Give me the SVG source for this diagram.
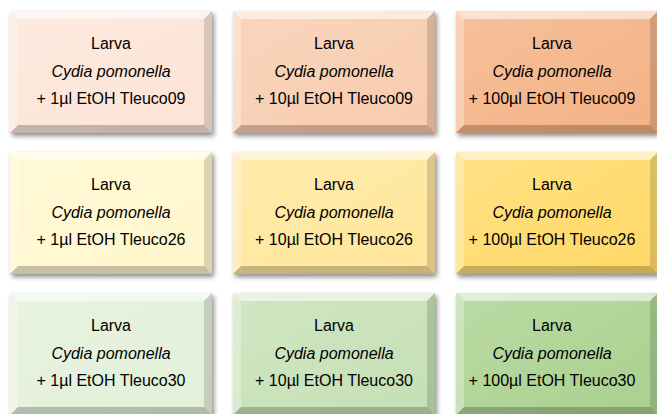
<svg xmlns="http://www.w3.org/2000/svg" xmlns:xlink="http://www.w3.org/1999/xlink" width="657" height="414" viewBox="0 0 657 414">
<style>
.t{font-family:"Liberation Sans",Arial,sans-serif;font-size:16px;fill:#000;text-anchor:middle}
.i{font-style:italic}
.sh{fill:#000;opacity:0.45;filter:url(#blur)}
</style>
<defs>
<filter id="blur" x="-10%" y="-10%" width="130%" height="130%"><feGaussianBlur stdDeviation="2.5"/></filter>
<linearGradient id="sheen" x1="0" y1="0" x2="1" y2="1"><stop offset="0" stop-color="#fff" stop-opacity="0.2"/><stop offset="1" stop-color="#fff" stop-opacity="0"/></linearGradient>
<g id="bev">
<rect width="202" height="122" fill="url(#sheen)"/>
<polygon points="0,0 202,0 194,8 8,8" fill="#fff" opacity="0.55"/>
<polygon points="0,0 8,8 8,114 0,122" fill="#fff" opacity="0.3"/>
<polygon points="202,0 202,122 194,114 194,8" fill="#000" opacity="0.14"/>
<polygon points="0,122 202,122 194,114 8,114" fill="#000" opacity="0.22"/>
</g>
</defs>
<rect width="657" height="414" fill="#fff"/>
<g id="n1"><rect class="sh" x="12" y="14" width="202" height="122"/><rect x="10" y="11" width="202" height="122" fill="#FCE4D6"/><use xlink:href="#bev" x="10" y="11"/>
<text class="t" x="111" y="49">Larva</text><text class="t i" x="111" y="76.5">Cydia pomonella</text><text class="t" x="111" y="104">+ 1µl EtOH Tleuco09</text></g>
<g id="n2"><rect class="sh" x="235" y="14" width="202" height="122"/><rect x="233" y="11" width="202" height="122" fill="#F8CBAD"/><use xlink:href="#bev" x="233" y="11"/>
<text class="t" x="334" y="49">Larva</text><text class="t i" x="334" y="76.5">Cydia pomonella</text><text class="t" x="334" y="104">+ 10µl EtOH Tleuco09</text></g>
<g id="n3"><rect class="sh" x="458" y="14" width="202" height="122"/><rect x="456" y="11" width="202" height="122" fill="#F4B183"/><use xlink:href="#bev" x="456" y="11"/>
<text class="t" x="552" y="49">Larva</text><text class="t i" x="552" y="76.5">Cydia pomonella</text><text class="t" x="552" y="104">+ 100µl EtOH Tleuco09</text></g>
<g id="n4"><rect class="sh" x="12" y="155" width="202" height="122"/><rect x="10" y="152" width="202" height="122" fill="#FFF7CC"/><use xlink:href="#bev" x="10" y="152"/>
<text class="t" x="111" y="190">Larva</text><text class="t i" x="111" y="217.5">Cydia pomonella</text><text class="t" x="111" y="245">+ 1µl EtOH Tleuco26</text></g>
<g id="n5"><rect class="sh" x="235" y="155" width="202" height="122"/><rect x="233" y="152" width="202" height="122" fill="#FFE699"/><use xlink:href="#bev" x="233" y="152"/>
<text class="t" x="334" y="190">Larva</text><text class="t i" x="334" y="217.5">Cydia pomonella</text><text class="t" x="334" y="245">+ 10µl EtOH Tleuco26</text></g>
<g id="n6"><rect class="sh" x="458" y="155" width="202" height="122"/><rect x="456" y="152" width="202" height="122" fill="#FFD966"/><use xlink:href="#bev" x="456" y="152"/>
<text class="t" x="552" y="190">Larva</text><text class="t i" x="552" y="217.5">Cydia pomonella</text><text class="t" x="552" y="245">+ 100µl EtOH Tleuco26</text></g>
<g id="n7"><rect class="sh" x="12" y="296" width="202" height="122"/><rect x="10" y="293" width="202" height="122" fill="#E2F0D9"/><use xlink:href="#bev" x="10" y="293"/>
<text class="t" x="111" y="331">Larva</text><text class="t i" x="111" y="358.5">Cydia pomonella</text><text class="t" x="111" y="386">+ 1µl EtOH Tleuco30</text></g>
<g id="n8"><rect class="sh" x="235" y="296" width="202" height="122"/><rect x="233" y="293" width="202" height="122" fill="#C5E0B4"/><use xlink:href="#bev" x="233" y="293"/>
<text class="t" x="334" y="331">Larva</text><text class="t i" x="334" y="358.5">Cydia pomonella</text><text class="t" x="334" y="386">+ 10µl EtOH Tleuco30</text></g>
<g id="n9"><rect class="sh" x="458" y="296" width="202" height="122"/><rect x="456" y="293" width="202" height="122" fill="#A9D18E"/><use xlink:href="#bev" x="456" y="293"/>
<text class="t" x="552" y="331">Larva</text><text class="t i" x="552" y="358.5">Cydia pomonella</text><text class="t" x="552" y="386">+ 100µl EtOH Tleuco30</text></g>
</svg>
